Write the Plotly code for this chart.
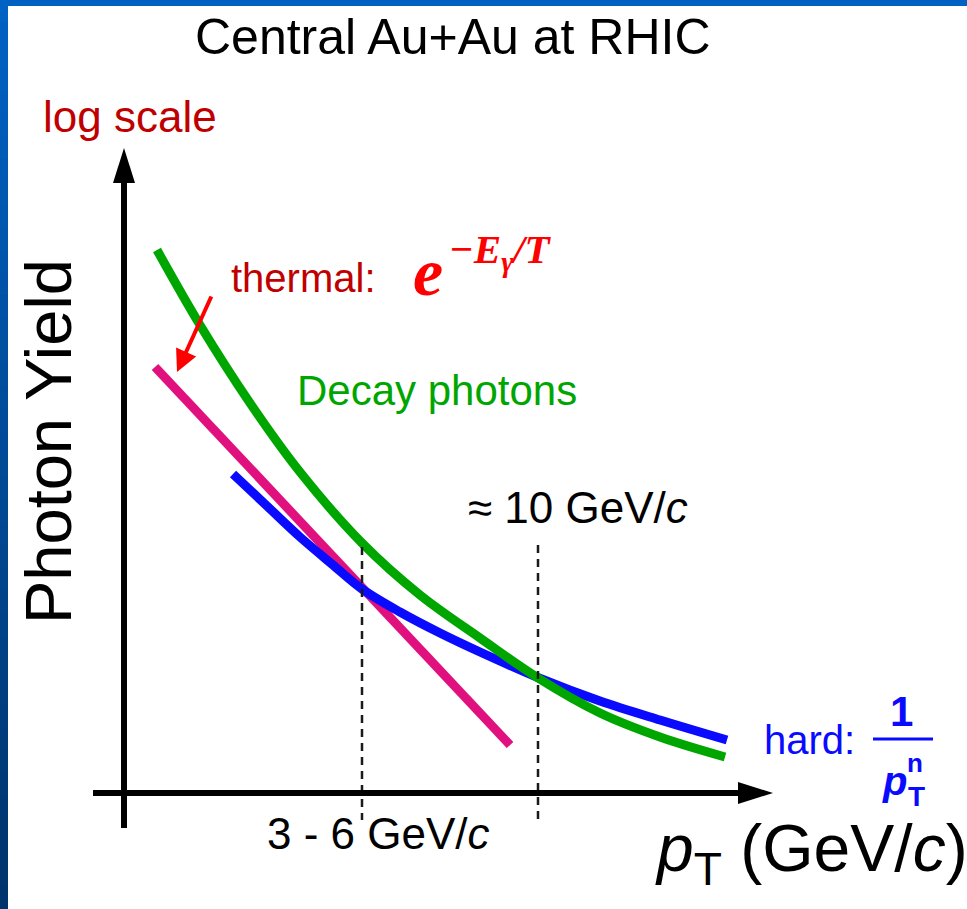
import plotly.graph_objects as go

W, H = 967, 909

# ---- schematic data (screen units: x to the right, y downward) ----
DECAY_X = [157, 200, 250, 300, 362, 420, 480, 538, 600, 660, 725]
DECAY_Y = [250, 325, 403, 472, 543, 595, 638, 678, 713, 737, 757]

HARD_X = [233, 267, 300, 333, 362, 400, 440, 480, 539, 600, 660, 727]
HARD_Y = [474, 506, 537, 565, 589, 612, 633, 652, 678, 701, 720, 740]

THERMAL_X = [155, 510]
THERMAL_Y = [367, 745]

DASH_X = [362, 538]
DASH_TOP = [547, 545]
DASH_BOTTOM = [820, 823]

# axes geometry
ORIGIN_X, ORIGIN_Y = 124, 793
Y_AXIS_TOP, Y_AXIS_BOTTOM = 148, 828
X_AXIS_LEFT, X_AXIS_RIGHT = 93, 773
HEAD_LEN, HEAD_HALF = 35, 11

SANS = "Liberation Sans, Arial, sans-serif"
SERIF = "Liberation Serif, Times New Roman, serif"

GREEN = "#00a600"
BLUE = "#0a0aff"
MAGENTA = "#e0107f"
DARKRED = "#c00000"
RED = "#ff0000"

fig = go.Figure()

fig.add_trace(go.Scatter(x=THERMAL_X, y=THERMAL_Y, mode="lines",
                         line=dict(color=MAGENTA, width=9), hoverinfo="skip"))
fig.add_trace(go.Scatter(x=HARD_X, y=HARD_Y, mode="lines", line_shape="spline",
                         line=dict(color=BLUE, width=9, smoothing=1.0), hoverinfo="skip"))
fig.add_trace(go.Scatter(x=DECAY_X, y=DECAY_Y, mode="lines", line_shape="spline",
                         line=dict(color=GREEN, width=9, smoothing=1.0), hoverinfo="skip"))

for dx, t, b in zip(DASH_X, DASH_TOP, DASH_BOTTOM):
    fig.add_trace(go.Scatter(x=[dx, dx], y=[t, b], mode="lines",
                             line=dict(color="#1a1a1a", width=2.5, dash="8px,6px"),
                             hoverinfo="skip"))

shapes = []
# slide frame: top strip and left gradient strip
shapes.append(dict(type="rect", xref="x", yref="y", x0=0, x1=W, y0=0, y1=6,
                   fillcolor="#0061c2", line_width=0, layer="above"))
N = 40
for i in range(N):
    f = i / (N - 1)
    g = int(98 + (52 - 98) * f)
    bcol = int(196 + (108 - 196) * f)
    shapes.append(dict(type="rect", xref="x", yref="y", x0=0, x1=8,
                       y0=i * H / N, y1=(i + 1) * H / N + 1,
                       fillcolor=f"rgb(0,{g},{bcol})", line_width=0, layer="above"))

# axes
shapes.append(dict(type="line", xref="x", yref="y", x0=ORIGIN_X, x1=ORIGIN_X,
                   y0=Y_AXIS_BOTTOM, y1=Y_AXIS_TOP + HEAD_LEN - 2,
                   line=dict(color="black", width=6)))
shapes.append(dict(type="path", xref="x", yref="y",
                   path=f"M {ORIGIN_X - HEAD_HALF} {Y_AXIS_TOP + HEAD_LEN} L {ORIGIN_X} {Y_AXIS_TOP} "
                        f"L {ORIGIN_X + HEAD_HALF} {Y_AXIS_TOP + HEAD_LEN} Z",
                   fillcolor="black", line_width=0))
shapes.append(dict(type="line", xref="x", yref="y", x0=X_AXIS_LEFT,
                   x1=X_AXIS_RIGHT - HEAD_LEN + 2, y0=ORIGIN_Y, y1=ORIGIN_Y,
                   line=dict(color="black", width=6)))
shapes.append(dict(type="path", xref="x", yref="y",
                   path=f"M {X_AXIS_RIGHT - HEAD_LEN} {ORIGIN_Y - HEAD_HALF} L {X_AXIS_RIGHT} {ORIGIN_Y} "
                        f"L {X_AXIS_RIGHT - HEAD_LEN} {ORIGIN_Y + HEAD_HALF} Z",
                   fillcolor="black", line_width=0))
# fraction bar of 1/pT^n
shapes.append(dict(type="line", xref="x", yref="y", x0=873, x1=933, y0=739, y1=739,
                   line=dict(color=BLUE, width=3)))

ann = []


def txt(x, y, text, size, color="black", family=SANS, **kw):
    d = dict(x=x, y=y, xref="x", yref="y", text=text, showarrow=False,
             font=dict(family=family, size=size, color=color),
             xanchor="center", yanchor="middle")
    d.update(kw)
    ann.append(d)


txt(453, 37, "Central Au+Au at RHIC", 50)
txt(130, 116, "log scale", 44, DARKRED)
txt(48, 442, "Photon Yield", 65, textangle=-90)
txt(303, 278, "thermal:", 40, DARKRED)
txt(428, 272, "<b><i>e</i></b>", 68, RED, SERIF)
txt(500, 252, "<b><i>\u2212E<sub>\u03b3</sub>/T</i></b>", 41, RED, SERIF)
txt(437, 390, "Decay photons", 42, GREEN)
txt(578, 507, "\u2248 10 GeV/<i>c</i>", 44)
txt(378, 833, "3 - 6 GeV/<i>c</i>", 44)
txt(809, 740, "hard:", 40, BLUE)
txt(901, 711, "<b>1</b>", 42, BLUE)
txt(894, 781, "<b><i>p</i></b>", 40, BLUE)
txt(915, 780, "<b>n</b>", 26, BLUE, yanchor="bottom")
txt(916, 779, "<b>T</b>", 28, BLUE, yanchor="top")
txt(811, 853, "<i>p</i><sub>T</sub> (GeV/<i>c</i>)", 66)

# red pointer arrow
ann.append(dict(x=177, y=372, ax=212, ay=295, xref="x", yref="y", axref="x", ayref="y",
                text="", showarrow=True, arrowhead=2, arrowwidth=4, arrowsize=1.1,
                arrowcolor=RED, standoff=0))

fig.update_layout(
    width=W, height=H,
    margin=dict(l=0, r=0, t=0, b=0),
    paper_bgcolor="white", plot_bgcolor="white",
    showlegend=False,
    xaxis=dict(range=[0, W], visible=False, fixedrange=True),
    yaxis=dict(range=[H, 0], visible=False, fixedrange=True),
    shapes=shapes,
    annotations=ann,
)

fig.write_html("out.html")
